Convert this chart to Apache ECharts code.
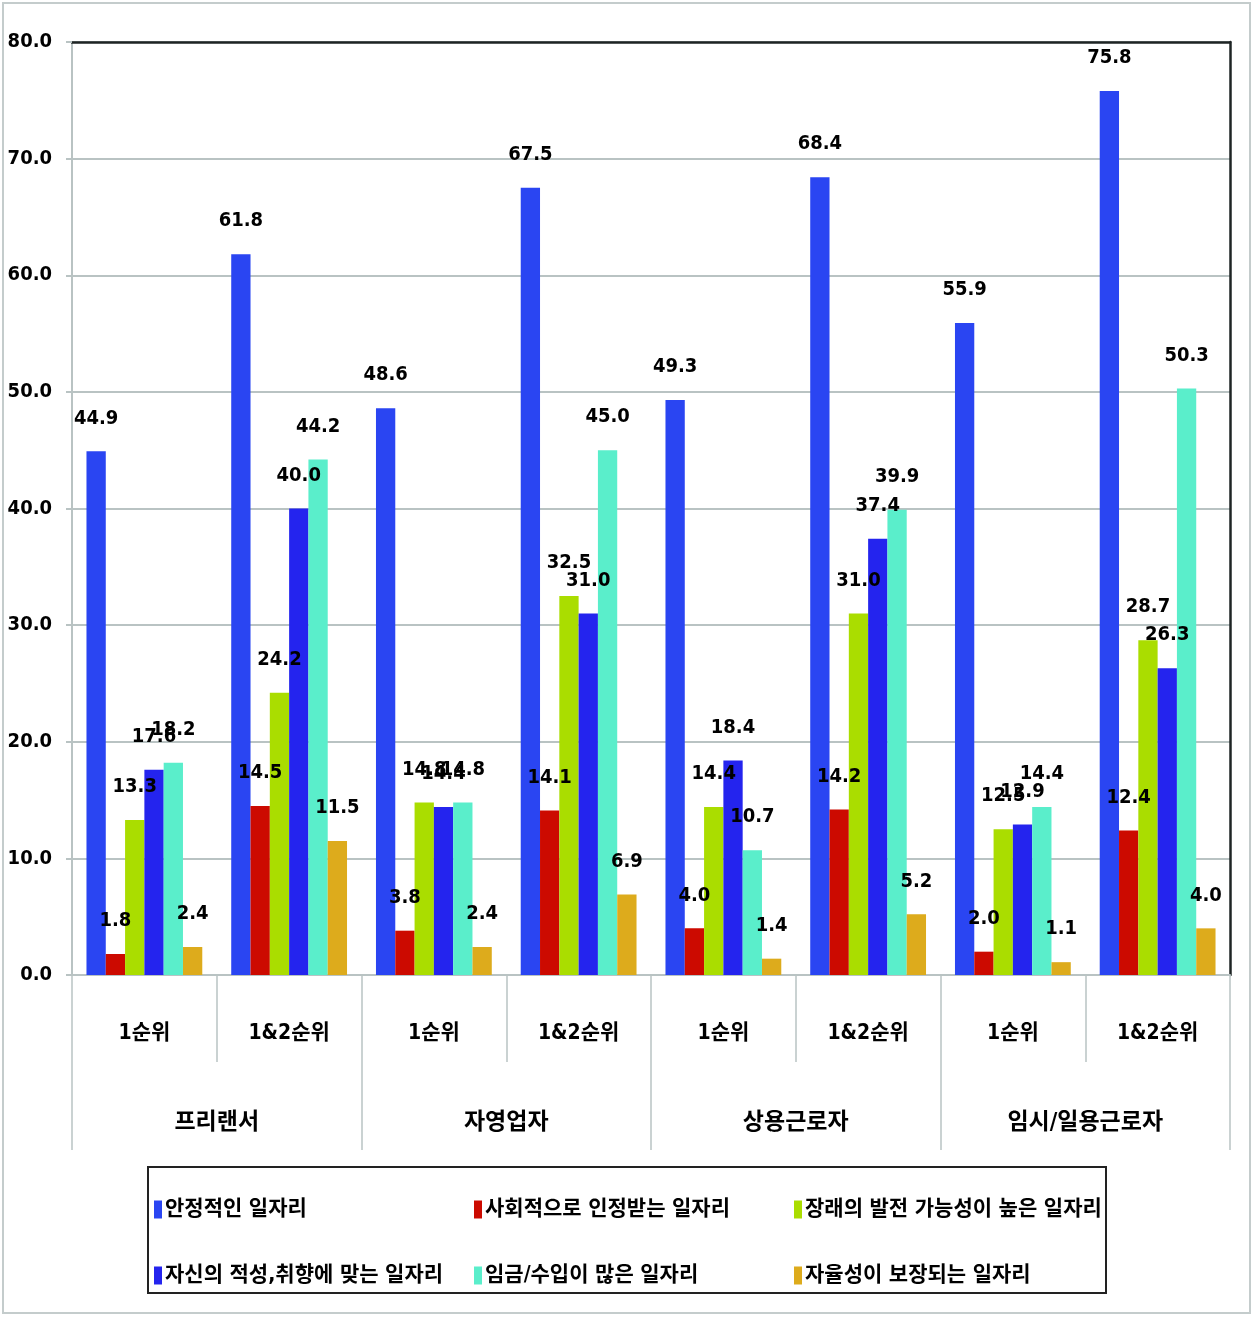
<!DOCTYPE html>
<html>
<head>
<meta charset="utf-8">
<script src="https://cdn.jsdelivr.net/npm/echarts@6/dist/echarts.min.js"></script>
<style>html,body{margin:0;padding:0;background:#fff;}#c{width:1255px;height:1320px;}</style>
</head>
<body>
<div id="c"></div>
<script>
const categories = ['1순위','1&2순위','1순위','1&2순위','1순위','1&2순위','1순위','1&2순위'];
const groups = ['프리랜서','자영업자','상용근로자','임시/일용근로자'];
const yTicks = [0,10,20,30,40,50,60,70,80];
const seriesNames = ['안정적인 일자리','사회적으로 인정받는 일자리','장래의 발전 가능성이 높은 일자리','자신의 적성,취향에 맞는 일자리','임금/수입이 많은 일자리','자율성이 보장되는 일자리'];
const stable     = [44.9, 61.8, 48.6, 67.5, 49.3, 68.4, 55.9, 75.8];
const recognized = [1.8, 14.5, 3.8, 14.1, 4.0, 14.2, 2.0, 12.4];
const future     = [13.3, 24.2, 14.8, 32.5, 14.4, 31.0, 12.5, 28.7];
const aptitude   = [17.6, 40.0, 14.4, 31.0, 18.4, 37.4, 12.9, 26.3];
const income     = [18.2, 44.2, 14.8, 45.0, 10.7, 39.9, 14.4, 50.3];
const autonomy   = [2.4, 11.5, 2.4, 6.9, 1.4, 5.2, 1.1, 4.0];

const seriesData = [stable, recognized, future, aptitude, income, autonomy];
const colors = ['#2a45f2','#cc0a00','#aadd00','#2424ee','#5aeecb','#ddab1c'];
const NUM = '"Liberation Sans Narrow","DejaVu Sans Condensed","Noto Sans CJK KR",sans-serif';
const KR = '"Liberation Sans Narrow","DejaVu Sans Condensed","Noto Sans CJK KR",sans-serif';
const gray = '#b9c3c3';

const legendPos = [[154,1199],[474,1199],[794,1199],[154,1265],[474,1265],[794,1265]];
const legends = seriesNames.map((n,i)=>({
  data:[n], left:legendPos[i][0], top:legendPos[i][1], padding:0,
  icon:'rect', itemWidth:8, itemHeight:18, selectedMode:false,
  textStyle:{fontFamily:KR, fontSize:21, fontWeight:'bold', color:'#000', padding:[0,0,0,-2]}
}));

const chart = echarts.init(document.getElementById('c'), null, {renderer:'canvas'});
chart.setOption({
  animation:false,
  backgroundColor:'#fff',
  color: colors,
  grid:{left:72, right:25, top:42, bottom:345},
  legend: legends,
  graphic:[
    {type:'rect', shape:{x:3,y:3,width:1247,height:1310}, style:{fill:'none', stroke:'#c4cccc', lineWidth:2}, silent:true, z:-1},
    {type:'rect', shape:{x:148,y:1167,width:958,height:126}, style:{fill:'none', stroke:'#222', lineWidth:2}, silent:true}
  ],
  xAxis:[
    {type:'category', data:categories, position:'bottom',
     axisLine:{lineStyle:{color:gray, width:2}},
     axisTick:{show:true, interval:0, length:87, lineStyle:{color:gray, width:1.5}},
     axisLabel:{interval:0, margin:48, fontFamily:KR, fontSize:21, fontWeight:'bold', color:'#000'}},
    {type:'category', data:groups, position:'bottom',
     axisLine:{show:false},
     axisTick:{show:true, interval:0, length:175, lineStyle:{color:gray, width:1.5}},
     axisLabel:{interval:0, margin:137, fontFamily:KR, fontSize:23, fontWeight:'bold', color:'#000'}},
    {type:'category', data:categories, position:'top',
     axisLine:{lineStyle:{color:'#1e2424', width:2.5}},
     axisTick:{show:false}, axisLabel:{show:false}}
  ],
  yAxis:[
    {type:'value', min:0, max:80, interval:10,
     axisLine:{show:true, lineStyle:{color:gray, width:2}},
     axisTick:{show:true, length:6, lineStyle:{color:gray, width:2}},
     splitLine:{lineStyle:{color:gray, width:2}},
     axisLabel:{margin:20, fontFamily:NUM, fontSize:20, fontWeight:'bold', color:'#000',
       formatter:v=> yTicks.indexOf(v)>=0 ? v.toFixed(1) : ''}},
    {type:'value', min:0, max:80, interval:10, position:'right',
     axisLine:{show:true, lineStyle:{color:'#1e2424', width:2.5}},
     axisTick:{show:false}, axisLabel:{show:false}, splitLine:{show:false}}
  ],
  series: seriesNames.map((n,i)=>({
    name:n, type:'bar', xAxisIndex:0, yAxisIndex:0,
    data: seriesData[i],
    barGap:'0%', barCategoryGap:'20%',
    itemStyle:{color:colors[i]},
    label:{show:true, position:'top', distance:23, fontFamily:NUM, fontSize:20, fontWeight:'bold', color:'#000',
      formatter:p=>p.value.toFixed(1)}
  }))
});
</script>
</body>
</html>
